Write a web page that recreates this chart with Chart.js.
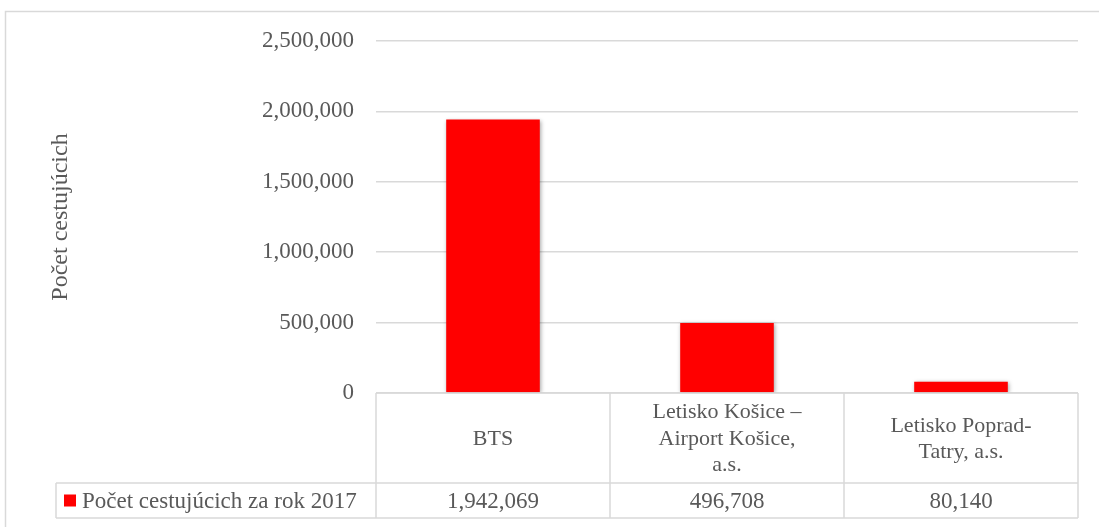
<!DOCTYPE html>
<html>
<head>
<meta charset="utf-8">
<script src="https://cdn.jsdelivr.net/npm/chart.js@4"></script>
<style>
  html, body { margin: 0; padding: 0; background: #ffffff; }
  #wrap { width: 1099px; height: 527px; position: relative; }
</style>
</head>
<body>
<div id="wrap"><canvas id="c" width="1099" height="527"></canvas></div>
<script>
const categories = [['BTS'], ['Letisko Košice –', 'Airport Košice,', 'a.s.'], ['Letisko Poprad-', 'Tatry, a.s.']];
const seriesName = 'Počet cestujúcich za rok 2017';
const passengers = [1942069, 496708, 80140];
const yTicks = [0, 500000, 1000000, 1500000, 2000000, 2500000];
const yTitle = 'Počet cestujúcich';

const FONT = '"Liberation Serif", "Times New Roman", serif';
const TXT = '#595959';
const LINE = '#d9d9d9';
const fmt = v => v.toLocaleString('en-US');

const shadowPlugin = {
  id: 'barShadow',
  beforeDatasetsDraw(chart) {
    const ctx = chart.ctx;
    ctx.save();
    ctx.shadowColor = 'rgba(0,0,0,0.35)';
    ctx.shadowBlur = 4;
    ctx.shadowOffsetX = 1;
    ctx.shadowOffsetY = 1;
  },
  afterDatasetsDraw(chart) { chart.ctx.restore(); }
};

const tablePlugin = {
  id: 'dataTable',
  afterDraw(chart) {
    const ctx = chart.ctx;
    const xs = chart.scales.x;
    const area = chart.chartArea;
    const n = categories.length;
    const colW = (xs.right - xs.left) / n;
    const y0 = area.bottom, y1 = y0 + 90, y2 = y1 + 35;
    const legendLeft = 56;
    ctx.save();
    // outer chart border
    ctx.strokeStyle = LINE;
    ctx.lineWidth = 1.5;
    ctx.strokeRect(5.5, 11.5, 1200, 600);
    // table lines
    ctx.beginPath();
    ctx.moveTo(xs.left, y0); ctx.lineTo(xs.right, y0);
    ctx.moveTo(legendLeft, y1); ctx.lineTo(xs.right, y1);
    ctx.moveTo(legendLeft, y2); ctx.lineTo(xs.right, y2);
    for (let i = 0; i <= n; i++) {
      const x = xs.left + i * colW;
      ctx.moveTo(x, y0); ctx.lineTo(x, y2);
    }
    ctx.moveTo(legendLeft, y1); ctx.lineTo(legendLeft, y2);
    ctx.stroke();
    // texts
    ctx.fillStyle = TXT;
    ctx.textAlign = 'center';
    ctx.textBaseline = 'middle';
    const lh = 26.5;
    const midHead = (y0 + y1) / 2 + 1;
    for (let i = 0; i < n; i++) {
      const cx = xs.getPixelForValue(i);
      const lines = categories[i];
      const startY = midHead - (lines.length - 1) * lh / 2;
      ctx.font = '22px ' + FONT;
      lines.forEach((t, k) => ctx.fillText(t, cx, startY + k * lh));
      ctx.font = '23px ' + FONT;
      ctx.fillText(fmt(passengers[i]), cx, (y1 + y2) / 2 + 1);
    }
    // legend key
    ctx.fillStyle = '#ff0000';
    ctx.fillRect(64, (y1 + y2) / 2 - 6, 12, 12);
    ctx.fillStyle = TXT;
    ctx.textAlign = 'left';
    ctx.font = '23px ' + FONT;
    ctx.fillText(seriesName, 82, (y1 + y2) / 2 + 1);
    ctx.restore();
  }
};

new Chart(document.getElementById('c'), {
  type: 'bar',
  data: {
    labels: categories,
    datasets: [{
      label: seriesName,
      data: passengers,
      backgroundColor: '#ff0000',
      borderWidth: 0,
      barPercentage: 0.4,
      categoryPercentage: 1.0
    }]
  },
  options: {
    responsive: false,
    devicePixelRatio: 1,
    animation: false,
    layout: { padding: { top: 41, right: 21, left: 0, bottom: 0 } },
    plugins: { legend: { display: false }, tooltip: { enabled: false } },
    scales: {
      x: {
        grid: { display: false },
        border: { display: false },
        ticks: { display: false },
        afterFit(s) { s.height = 134; }
      },
      y: {
        min: 0,
        max: 2500000,
        afterBuildTicks(s) { s.ticks = yTicks.map(v => ({ value: v })); },
        grid: { color: LINE, lineWidth: 1.5, drawTicks: false },
        border: { display: false },
        ticks: {
          padding: 22,
          color: TXT,
          font: { family: FONT, size: 23 },
          callback: v => fmt(v)
        },
        title: {
          display: true,
          text: yTitle,
          color: TXT,
          font: { family: FONT, size: 24 },
          padding: { top: 46, bottom: 0 }
        },
        afterFit(s) { s.width = 376; }
      }
    }
  },
  plugins: [shadowPlugin, tablePlugin]
});
</script>
</body>
</html>
